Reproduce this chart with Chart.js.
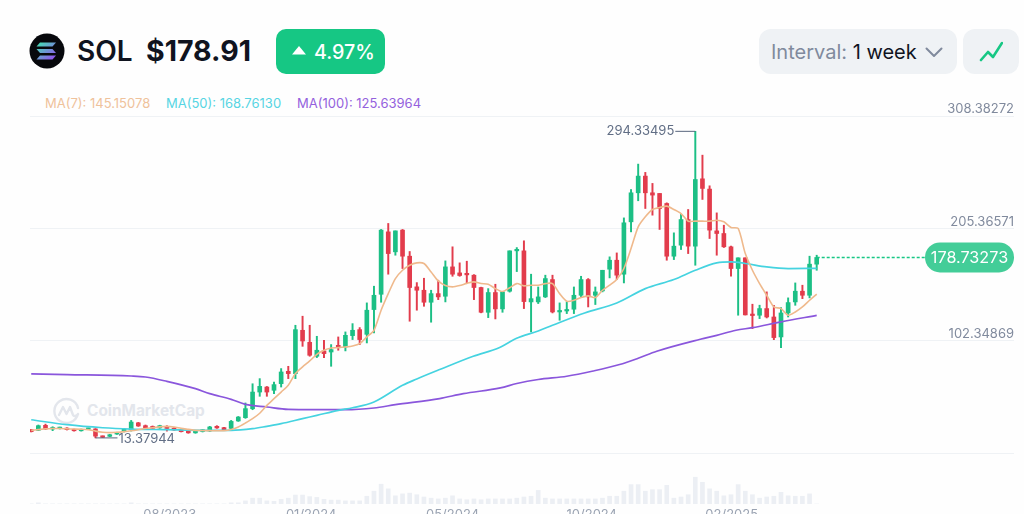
<!DOCTYPE html>
<html>
<head>
<meta charset="utf-8">
<script src="https://cdn.jsdelivr.net/npm/chart.js@4"></script>
<style>
  html, body { margin: 0; padding: 0; background: #fefefe; overflow: hidden; width: 1024px; height: 514px; }
  body { position: relative; font-family: Inter, sans-serif; }
  .abs { position: absolute; white-space: nowrap; }
  #priceChart { position: absolute; left: 0; top: 0; }
  .ma { top: 95px; font-size: 13px; line-height: 16px; }
</style>
</head>
<body>
<!-- coin logo -->
<svg class="abs" style="left:29px;top:33px" width="36" height="36" viewBox="0 0 36 36">
  <defs><linearGradient id="sol" x1="0" y1="0" x2="1" y2="1">
    <stop offset="0" stop-color="#3fe8b0"/><stop offset="1" stop-color="#9a45f5"/></linearGradient></defs>
  <circle cx="18" cy="18" r="17.5" fill="#07080c"/>
  <path d="M11 9.5h16l-3.5 4h-16zM7.5 16h16l3.5 4h-16zM11 22.5h16l-3.5 4h-16z" fill="url(#sol)"/>
</svg>
<div class="abs" style="left:77px;top:34px;font-size:28px;line-height:34px;font-weight:600;color:#10141f">SOL</div>
<div class="abs" style="left:146px;top:34px;font-size:28.5px;line-height:34px;font-weight:700;color:#10141f">$178.91</div>
<div class="abs" style="left:276px;top:29px;width:109px;height:45px;background:#16c784;border-radius:10px"></div>
<svg class="abs" style="left:292px;top:46px" width="14" height="9"><path d="M7 0L14 8.5H0z" fill="#fff"/></svg>
<div class="abs" style="left:314px;top:39px;font-size:19.700px;line-height:26px;font-weight:500;color:#fff">4.97%</div>

<!-- interval controls -->
<div class="abs" style="left:759px;top:29px;width:198px;height:45px;background:#eff2f5;border-radius:12px"></div>
<div class="abs" style="left:771px;top:39px;font-size:20px;line-height:26px;color:#808a9d">Interval: <span style="color:#10141f">1 week</span></div>
<svg class="abs" style="left:925px;top:47px" width="18" height="11"><path d="M1.5 1.5L9 9l7.5-7.5" fill="none" stroke="#808a9d" stroke-width="2" stroke-linecap="round" stroke-linejoin="round"/></svg>
<div class="abs" style="left:963px;top:29px;width:56px;height:45px;background:#eff2f5;border-radius:12px"></div>
<svg class="abs" style="left:979px;top:41px" width="24" height="21"><path d="M2 19l7-8 5 5 9-14" fill="none" stroke="#16c784" stroke-width="2.6" stroke-linecap="round" stroke-linejoin="round"/></svg>

<!-- moving average legend -->
<div class="abs ma" style="left:45px;color:#efc29b">MA(7): 145.15078</div>
<div class="abs ma" style="left:166px;color:#57d5e3">MA(50): 168.76130</div>
<div class="abs ma" style="left:297px;color:#9461dd">MA(100): 125.63964</div>

<!-- watermark -->
<svg class="abs" style="left:53px;top:397px" width="27" height="27" viewBox="0 0 27 27">
  <path d="M25 17a12 12 0 1 1 0-6M6 18l4-8 3.500 7 3.500-7 3 8c1 2 3 1 5-1" fill="none" stroke="#e3e6ec" stroke-width="2.4" stroke-linecap="round" stroke-linejoin="round"/>
</svg>
<div class="abs" style="left:87px;top:400px;font-size:15.400px;line-height:22px;font-weight:700;color:#e3e6ec">CoinMarketCap</div>

<canvas id="priceChart" width="1024" height="530"></canvas>

<script>
const candleOpen = [20.9,20.3,24.9,21.5,21.9,22.4,21.2,19.9,21.2,21.6,14.9,14.8,16.9,19.1,20.9,27.2,24.6,23.9,22.5,24.0,
  22.3,20.9,20.3,18.0,19.2,19.7,24.0,22.8,22.1,28.9,31.9,40.1,55.4,60.0,57.0,63.1,74.4,72.3,112.0,101.0,
  88.2,93.1,92.1,98.2,96.7,107.1,112.6,108.3,131.0,145.0,202.2,183.9,203.8,179.9,151.8,148.7,137.7,145.6,143.2,170.1,
  164.6,163.4,162.5,151.2,128.5,146.6,131.6,147.8,184.8,184.8,138.0,138.0,142.6,158.5,128.8,129.7,131.3,144.1,158.5,144.1,
  148.1,168.0,176.2,163.4,211.4,238.0,253.3,238.0,237.4,228.2,179.9,190.0,213.5,189.1,250.8,241.4,203.1,200.7,188.5,168.6,
  178.4,126.7,125.8,131.9,124.2,105.9,127.9,138.0,147.8,144.1,172.6];
const candleClose = [19.1,24.6,21.5,22.7,22.6,20.9,19.9,21.2,21.9,15.0,13.9,16.3,18.3,21.5,27.9,24.3,22.1,22.1,24.6,22.0,
  20.6,19.1,18.0,19.7,20.9,23.4,22.5,20.9,28.5,32.5,40.2,55.4,60.6,55.4,62.2,73.8,72.3,112.6,102.2,89.1,
  93.7,90.6,94.3,96.1,107.4,112.0,103.5,130.4,144.1,203.8,182.3,203.1,179.9,151.2,148.7,137.7,145.6,142.6,170.1,163.4,
  162.2,162.8,151.2,128.5,146.6,131.6,147.2,184.8,186.0,138.3,141.0,142.6,159.4,128.8,129.7,130.9,144.1,158.5,142.6,147.2,
  167.0,176.2,162.5,210.5,238.0,253.3,238.0,235.9,223.6,179.9,189.1,213.5,189.1,250.2,242.0,203.8,200.7,188.5,168.6,178.4,
  126.1,125.5,131.9,124.2,105.3,127.9,137.4,147.8,144.1,172.6,178.73];
const candleHigh = [21.2,25.2,26.0,23.6,23.3,22.7,21.5,21.5,22.4,21.9,15.2,16.6,18.6,22.0,29.4,27.6,25.2,24.3,25.0,24.6,
  22.7,21.2,20.6,20.0,21.2,24.0,24.6,23.1,29.4,33.0,45.4,63.0,67.7,60.5,64.6,76.9,79.0,116.6,124.9,116.6,
  106.5,102.8,98.9,105.9,110.5,118.1,114.5,137.1,152.4,204.4,209.9,203.1,204.4,184.2,155.7,159.7,148.7,157.9,175.6,188.5,
  173.8,175.3,163.0,151.5,150.2,154.2,147.2,184.8,187.8,194.0,163.4,151.7,162.5,162.5,137.1,138.0,151.7,161.5,159.4,151.7,
  167.0,179.3,182.9,215.0,241.0,264.3,256.7,246.6,237.4,228.8,201.3,218.4,222.7,294.33495,272.5,244.4,219.6,208.3,189.1,178.4,
  178.4,135.9,135.0,147.2,134.9,132.8,141.7,155.4,153.3,179.9,180.8];
const candleLow = [18.8,20.0,21.2,20.0,21.5,20.6,19.6,19.6,20.9,13.37944,13.6,14.5,16.6,18.8,19.6,23.9,21.5,21.6,22.1,19.6,
  20.3,18.8,17.6,17.6,18.8,19.1,22.1,20.6,21.5,28.5,31.3,39.2,51.5,51.5,53.9,60.0,67.7,67.7,97.3,88.2,
  87.0,87.0,79.0,93.7,93.1,103.5,98.9,100.4,109.6,137.7,163.4,180.8,168.6,120.3,130.4,134.0,119.4,140.1,138.0,161.5,
  161.5,155.4,140.1,128.0,123.6,122.4,128.5,147.0,165.8,131.9,110.5,136.5,142.0,127.9,121.2,127.3,127.3,142.6,133.4,135.6,
  147.2,160.0,158.5,155.4,202.2,230.7,223.6,217.5,204.4,176.2,176.8,186.0,182.3,171.6,231.9,196.1,180.8,187.9,161.5,125.8,
  126.0,113.5,122.7,123.3,103.4,96.1,124.2,134.9,141.0,141.7,167.0];
const volumes = [0.5,3,0.5,0.5,0.5,0.5,0.5,0.5,0.5,0.5,0.5,0.5,0.5,0.5,3,0.5,0.5,0.5,0.5,0.5,
  0.5,0.5,0.5,0.5,0.5,0.5,0.5,0.5,3,3,8,15,15,8,7,12,15,23,23,19,
  17,12,10,10,8,8,8,20,33,51,39,21,26,28,24,18,15,13,15,21,
  13,11,13,11,13,13,13,13,15,18,20,35,15,13,13,13,13,13,13,13,
  15,20,20,33,50,50,33,37,37,48,15,18,24,69,56,39,33,21,24,50,
  33,24,15,18,20,30,21,20,20,26,0];

const ma7Values = [20.3,21.0,21.7,22.0,22.0,21.7,21.5,21.3,20.9,19.6,18.6,18.2,18.5,19.1,19.9,20.9,22.0,22.7,23.5,23.9,
  23.3,22.1,21.2,20.3,20.1,20.0,20.0,20.0,21.0,23.4,27.0,31.0,36.0,43.2,49.3,55.4,61.6,72.3,78.4,83.9,
  90.0,93.7,95.8,96.1,96.7,97.6,99.8,105.9,112.0,130.4,145.6,159.4,167.0,171.6,173.8,173.2,165.5,157.3,153.0,151.8,
  153.0,155.0,156.4,154.8,154.2,150.2,147.5,151.0,154.8,152.7,153.3,153.3,154.8,154.8,145.6,138.6,139.5,142.0,143.5,142.0,
  148.7,153.3,158.5,168.6,186.9,206.8,216.0,222.7,224.5,225.8,222.7,219.0,212.0,212.0,212.0,212.0,212.9,211.4,206.2,205.3,
  182.3,167.0,154.8,144.1,133.4,131.9,125.8,128.8,133.4,139.5,145.15078];
const ma50Weeks = [0,5,10,14,19,24,28,31,33,35,38,40,43,45,48,52,54,57.2,61.9,65.6,67.9,71,73,77.5,82,86,90,93,96,98,100,103,106,110];
const ma50Values = [30,25.5,22.7,21.5,20.9,20.3,20.3,21.8,24,26.4,31,34,38.6,41,46.3,61.6,67.4,76,88.2,96.2,104.5,111.4,116.6,127.9,137,150.2,158.5,167,173.8,174.7,173.2,170.1,168.6,168.7613];
const ma100Weeks = [0,5,14,16,19,23,25,28,30,33,36,44,48,51,57.2,60.5,65.7,68,71,75,78.7,82.4,85,87.6,93.7,96,98.7,101,105,110];
const ma100Values = [72,71.4,70.1,69.2,65.2,58.5,53.9,48.7,44.1,41.7,39.5,39.2,40.8,43.8,49.4,53.9,59.2,63.2,66.9,69.9,74.7,80.6,86.4,92.8,103.8,107.4,112,114.4,119.7,125.63964];

const gridValues = [308.38272, 205.36571, 102.34869, -0.66833];
const gridLabels = ['308.38272', '205.36571', '102.34869', ''];
const tickWeeks = [19.4, 39.2, 59, 78.5, 98.1];
const tickLabels = ['08/2023', '01/2024', '05/2024', '10/2024', '02/2025'];
const lastPrice = 178.73273;
const highValue = 294.33495;
const lowValue = 13.37944;

const green = '#1cbf85';
const red = '#e23c4c';
const weeks = candleOpen.map((_, i) => i);
const lastWeek = weeks[weeks.length - 1];
const candleColors = weeks.map(i => candleClose[i] >= candleOpen[i] ? green : red);
const xMin = -0.17;
const xMax = 137.63;

// leader labels for high/low and the price pill sit on top of the scales
const labelsPlugin = {
  id: 'priceLabels',
  afterDatasetsDraw(chart) {
    const { ctx, scales: { x, y } } = chart;
    ctx.save();
    ctx.font = '13px Inter, sans-serif';
    ctx.textBaseline = 'middle';
    ctx.strokeStyle = '#58667e';
    ctx.fillStyle = '#616e85';
    ctx.lineWidth = 1;

    const hx = x.getPixelForValue(candleHigh.indexOf(highValue));
    const hy = y.getPixelForValue(highValue);
    ctx.beginPath();
    ctx.moveTo(hx, hy);
    ctx.lineTo(hx - 20, hy);
    ctx.stroke();
    ctx.textAlign = 'right';
    ctx.fillText(highValue.toFixed(5), hx - 21, hy);

    const lx = x.getPixelForValue(candleLow.indexOf(lowValue));
    const ly = y.getPixelForValue(lowValue);
    ctx.beginPath();
    ctx.moveTo(lx, ly);
    ctx.lineTo(lx + 22, ly);
    ctx.stroke();
    ctx.textAlign = 'left';
    ctx.fillText(lowValue.toFixed(5), lx + 23, ly + 1);

    const py = y.getPixelForValue(lastPrice);
    const right = chart.chartArea.right;
    ctx.fillStyle = '#43cd98';
    ctx.beginPath();
    ctx.roundRect(right - 89, py - 15, 89, 30, 15);
    ctx.fill();
    ctx.fillStyle = '#fff';
    ctx.font = '16.2px Inter, sans-serif';
    ctx.textAlign = 'center';
    ctx.fillText(lastPrice.toFixed(5), right - 44.5, py + 1);
    ctx.restore();
  }
};

new Chart(document.getElementById('priceChart'), {
  data: {
    datasets: [
      {
        type: 'line', label: 'MA(7)', order: 0,
        data: weeks.map(i => ({ x: i, y: ma7Values[i] })),
        borderColor: '#efb98c', borderWidth: 1.6, pointRadius: 0, tension: 0.25
      },
      {
        type: 'line', label: 'MA(50)', order: 0,
        data: ma50Weeks.map((w, i) => ({ x: w, y: ma50Values[i] })),
        borderColor: '#45d3e0', borderWidth: 1.7, pointRadius: 0, cubicInterpolationMode: 'monotone'
      },
      {
        type: 'line', label: 'MA(100)', order: 0,
        data: ma100Weeks.map((w, i) => ({ x: w, y: ma100Values[i] })),
        borderColor: '#8a56dc', borderWidth: 1.7, pointRadius: 0, cubicInterpolationMode: 'monotone'
      },
      {
        type: 'line', label: 'Last price', order: 0,
        data: [{ x: lastWeek, y: lastPrice }, { x: xMax, y: lastPrice }],
        borderColor: '#16c784', borderWidth: 1.4, borderDash: [3, 2], pointRadius: 0
      },
      {
        type: 'bar', label: 'Body', order: 1, grouped: false, barThickness: 4, minBarLength: 1.5,
        data: weeks.map(i => ({ x: i, y: [candleOpen[i], candleClose[i]] })),
        backgroundColor: candleColors, borderSkipped: false
      },
      {
        type: 'bar', label: 'Wick', order: 2, grouped: false, barThickness: 1.3,
        data: weeks.map(i => ({ x: i, y: [candleLow[i], candleHigh[i]] })),
        backgroundColor: candleColors, borderSkipped: false
      },
      {
        type: 'bar', label: 'Volume', order: 3, grouped: false, barThickness: 4, yAxisID: 'volume',
        data: weeks.map(i => ({ x: i, y: volumes[i] })),
        backgroundColor: '#eceff4'
      }
    ]
  },
  options: {
    responsive: false,
    animation: false,
    layout: { padding: { left: 30, right: 10, top: 116, bottom: 0 } },
    plugins: { legend: { display: false }, tooltip: { enabled: false } },
    scales: {
      x: {
        type: 'linear', min: xMin, max: xMax, offset: false,
        afterBuildTicks: scale => { scale.ticks = tickWeeks.map(value => ({ value })); },
        afterFit: scale => { scale.height = 26; },
        grid: { display: false, drawTicks: false },
        border: { display: false },
        ticks: {
          autoSkip: false, maxRotation: 0, padding: 3,
          color: '#9aa3b2', font: { family: 'Inter', size: 13 },
          callback: value => tickLabels[tickWeeks.indexOf(value)]
        }
      },
      y: {
        position: 'right', min: -47.2, max: 308.38272,
        afterBuildTicks: scale => { scale.ticks = gridValues.map(value => ({ value })); },
        grid: { color: '#eff2f5', lineWidth: 1, drawTicks: false },
        border: { display: false },
        ticks: {
          mirror: true, align: 'end', padding: 0,
          color: '#808a9d', font: { family: 'Inter', size: 13 },
          callback: value => gridLabels[gridValues.indexOf(value)]
        }
      },
      volume: { display: false, min: 0, max: 1000 }
    }
  },
  plugins: [labelsPlugin]
});
</script>
</body>
</html>
